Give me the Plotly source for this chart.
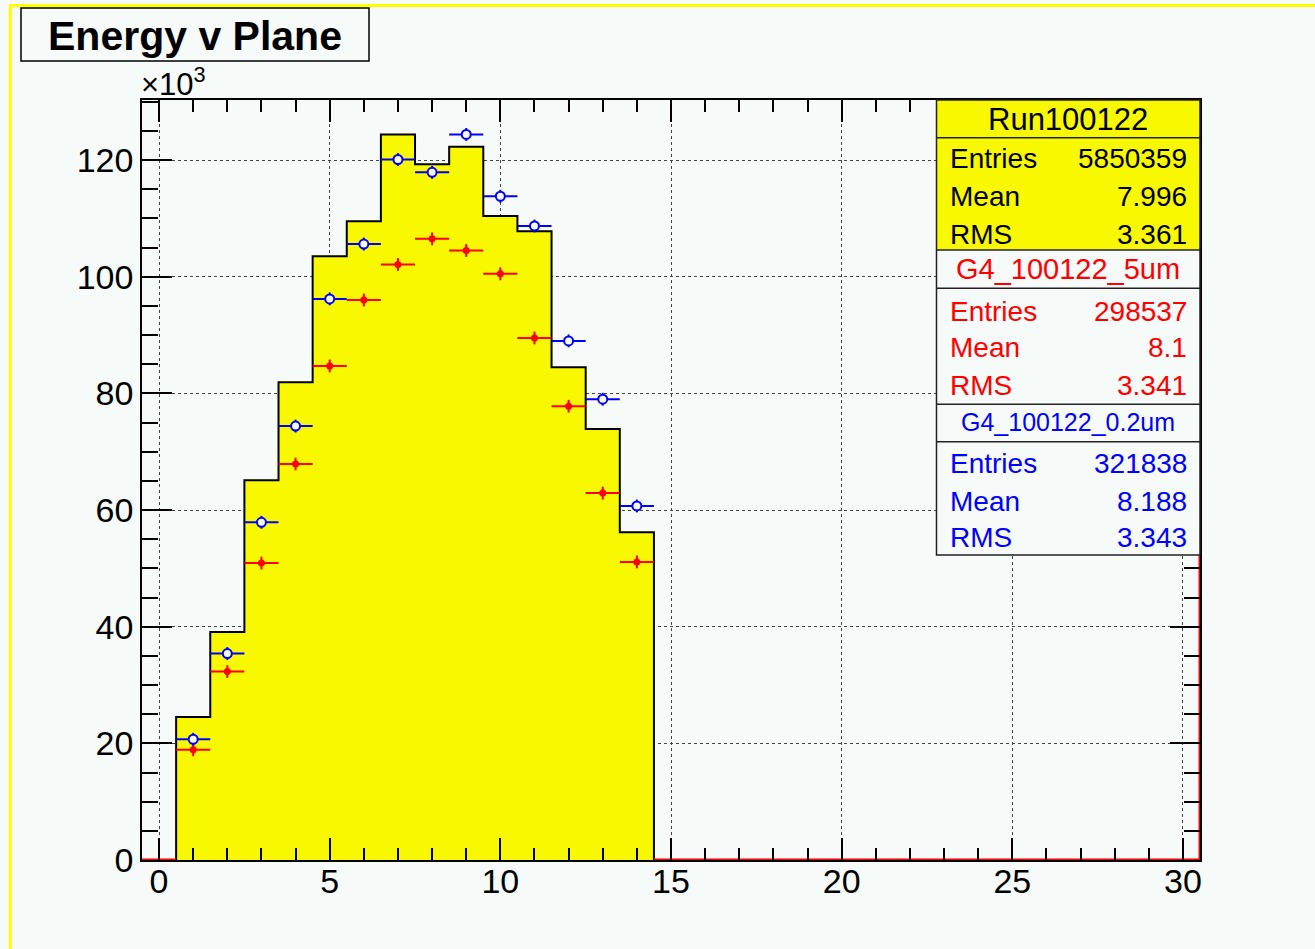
import numpy as np
import plotly.graph_objects as go

# ---- histogram contents (bins of width 1 centred on the plane number) ----
planes = [1, 2, 3, 4, 5, 6, 7, 8, 9, 10, 11, 12, 13, 14]
run_counts = [24500, 39100, 65100, 81900, 103500, 109500, 124400,
              119300, 122300, 110400, 107800, 84500, 73900, 56200]
g4_5um_counts = [18900, 32300, 50900, 67900, 84700, 96000, 102100,
                 106500, 104500, 100500, 89500, 77800, 62900, 51100]
g4_02um_counts = [20700, 35400, 57900, 74400, 96200, 105600, 120100,
                  117900, 124400, 113800, 108700, 89000, 79000, 60700]
point_err = 1100          # vertical error on the simulated points
n_bins = 31               # full axis: planes 0..30

stats_run = [("Entries", "5850359"), ("Mean", "7.996"), ("RMS", "3.361")]
stats_5um = [("Entries", "298537"), ("Mean", "8.1"), ("RMS", "3.341")]
stats_02um = [("Entries", "321838"), ("Mean", "8.188"), ("RMS", "3.343")]

BG = "#f6fbf9"
YELLOW = "#f8f800"
FONT = "Liberation Sans"

# plot-frame geometry in pixels (used to place boxes/text in paper units)
W, H = 1315, 949
L, R, T, B = 142, 1200, 100, 860


def px(x):
    return (x - L) / (R - L)


def py(y):
    return (B - y) / (B - T)


scale = 1000.0
centres = np.arange(n_bins)
full = np.zeros(n_bins)
full[np.array(planes)] = run_counts
edges = np.arange(n_bins + 1) - 0.5

# step outline of the data histogram
step_x = np.concatenate([[edges[0]], edges[:-1], [edges[-1]]])
step_y = np.concatenate([[0], full, [0]]) / scale

fig = go.Figure()

fig.add_trace(go.Scatter(
    x=step_x, y=step_y, mode="lines", line_shape="hv",
    line=dict(color="black", width=2), fill="tozeroy", fillcolor=YELLOW,
    hoverinfo="skip", showlegend=False,
))

# empty bins of the 5um simulation drawn along the baseline
empty_5um = np.setdiff1d(centres, planes)
lo = empty_5um[empty_5um < min(planes)]
hi = empty_5um[empty_5um > max(planes)]
red_x = [lo.min() - 0.5, lo.max() + 0.5, None, hi.min() - 0.5, hi.max() + 0.5, hi.max() + 0.5]
red_y = [0, 0, None, 0, 0, 200]
fig.add_trace(go.Scatter(
    x=red_x, y=red_y, mode="lines", line=dict(color="red", width=3),
    hoverinfo="skip", showlegend=False,
))

half_w = [0.5] * len(planes)
errs = [point_err / scale] * len(planes)

fig.add_trace(go.Scatter(
    x=planes, y=np.array(g4_5um_counts) / scale, mode="markers",
    marker=dict(symbol="circle", size=7, color="red"),
    error_x=dict(type="data", array=half_w, color="red", thickness=2, width=0),
    error_y=dict(type="data", array=errs, color="red", thickness=2, width=0),
    showlegend=False,
))
fig.add_trace(go.Scatter(
    x=planes, y=np.array(g4_02um_counts) / scale, mode="markers",
    marker=dict(symbol="circle", size=9, color=BG, line=dict(width=2, color="blue")),
    error_x=dict(type="data", array=half_w, color="blue", thickness=2, width=0),
    error_y=dict(type="data", array=errs, color="blue", thickness=2, width=0),
    showlegend=False,
))

axis_common = dict(
    showline=True, linecolor="black", linewidth=1.5, mirror="allticks",
    ticks="inside", tickcolor="black", tickwidth=1.5,
    showgrid=True, gridcolor="#444444", griddash="dot", gridwidth=1.3,
    zeroline=False, tickfont=dict(family=FONT, size=34, color="black"),
)

fig.update_xaxes(
    range=[edges[0], edges[-1]], tick0=0, dtick=5, ticklen=22,
    minor=dict(ticks="inside", dtick=1, ticklen=12, tickcolor="black",
               tickwidth=1.5, showgrid=False),
    ticklabelstandoff=-10, **axis_common,
)
fig.update_yaxes(
    range=[0, 130.3], tick0=0, dtick=20, ticklen=30,
    minor=dict(ticks="inside", dtick=5, ticklen=16, tickcolor="black",
               tickwidth=1.5, showgrid=False),
    ticklabelstandoff=0, **axis_common,
)

shapes = []
annotations = []

# canvas border (left and top edges)
shapes.append(dict(type="line", xref="paper", yref="paper",
                   x0=px(10.5), x1=px(10.5), y0=py(4), y1=py(H + 5),
                   line=dict(color="#ffff00", width=3)))
shapes.append(dict(type="line", xref="paper", yref="paper",
                   x0=px(9), x1=px(W + 5), y0=py(5.5), y1=py(5.5),
                   line=dict(color="#ffff00", width=3)))

# title box
shapes.append(dict(type="rect", xref="paper", yref="paper",
                   x0=px(21), x1=px(369), y0=py(61), y1=py(8),
                   fillcolor=BG, line=dict(color="black", width=1.5)))
annotations.append(dict(text="<b>Energy v Plane</b>", xref="paper", yref="paper",
                        x=px(195), y=py(36), xanchor="center", yanchor="middle",
                        showarrow=False, font=dict(family=FONT, size=41, color="black")))

# axis multiplier
annotations.append(dict(text="×10<sup>3</sup>", xref="paper", yref="paper",
                        x=px(139), y=py(82), xanchor="left", yanchor="middle",
                        showarrow=False, font=dict(family=FONT, size=31, color="black")))

# statistics box
SX0, SX1 = 936.5, 1200
shapes.append(dict(type="rect", xref="paper", yref="paper",
                   x0=px(SX0), x1=px(SX1), y0=py(250), y1=py(100),
                   fillcolor=YELLOW, line=dict(width=0)))
shapes.append(dict(type="rect", xref="paper", yref="paper",
                   x0=px(SX0), x1=px(SX1), y0=py(555), y1=py(250),
                   fillcolor=BG, line=dict(width=0)))
for yl in [137.7, 250, 288.3, 404.3, 441.7]:
    shapes.append(dict(type="line", xref="paper", yref="paper",
                       x0=px(SX0), x1=px(SX1), y0=py(yl), y1=py(yl),
                       line=dict(color="#222222", width=1.5)))
shapes.append(dict(type="rect", xref="paper", yref="paper",
                   x0=px(SX0), x1=px(SX1), y0=py(555), y1=py(100),
                   line=dict(color="#222222", width=1.5)))


def header(text, ycen, color, size):
    annotations.append(dict(text=text, xref="paper", yref="paper",
                            x=px((SX0 + SX1) / 2), y=py(ycen),
                            xanchor="center", yanchor="middle", showarrow=False,
                            font=dict(family=FONT, size=size, color=color)))


def rows(stats, ycens, color):
    for (name, val), yc in zip(stats, ycens):
        annotations.append(dict(text=name, xref="paper", yref="paper",
                                x=px(948), y=py(yc), xanchor="left", yanchor="middle",
                                showarrow=False, font=dict(family=FONT, size=28, color=color)))
        annotations.append(dict(text=val, xref="paper", yref="paper",
                                x=px(1189), y=py(yc), xanchor="right", yanchor="middle",
                                showarrow=False, font=dict(family=FONT, size=28, color=color)))


header("Run100122", 119, "black", 31)
rows(stats_run, [158, 196.5, 234], "black")
header("G4_100122_5um", 269, "red", 29)
rows(stats_5um, [311, 347.5, 385], "red")
header("G4_100122_0.2um", 421.5, "blue", 25)
rows(stats_02um, [463, 501, 537], "blue")

fig.update_layout(
    width=W, height=H,
    margin=dict(l=L, r=W - R, t=T, b=H - B, pad=0),
    paper_bgcolor=BG, plot_bgcolor=BG,
    shapes=shapes, annotations=annotations,
    showlegend=False,
)

fig.write_html("out.html")
